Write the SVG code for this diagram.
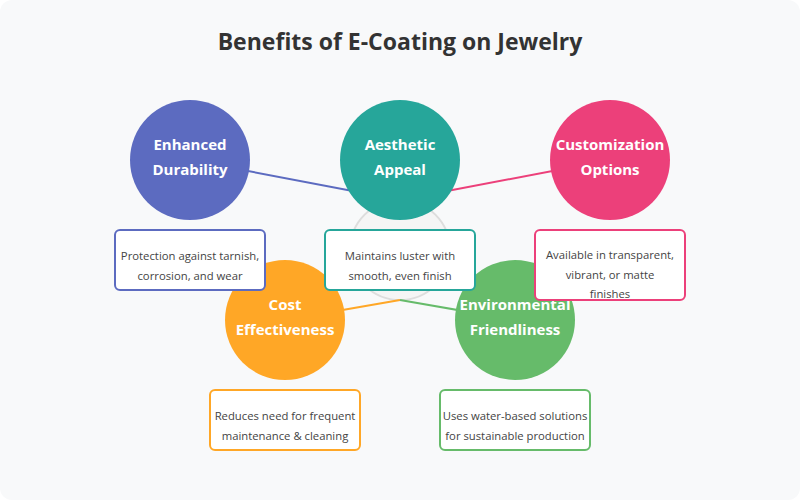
<svg xmlns="http://www.w3.org/2000/svg" width="800" height="500" viewBox="0 0 800 500">
<style>
.title{font-family:"Open Sans","Liberation Sans",sans-serif;font-weight:700;font-size:23px;fill:#333;text-anchor:middle}
.ctext{font-family:"Open Sans","Liberation Sans",sans-serif;font-weight:700;font-size:15px;fill:#fff;text-anchor:middle}
.dtext{font-family:"Open Sans","Liberation Sans",sans-serif;font-size:11.3px;fill:#444;text-anchor:middle}
.box{fill:#fff;stroke-width:2}
.conn{stroke-width:2;fill:none}
</style>
<rect x="0" y="0" width="800" height="500" rx="12" fill="#f8f9fa"/>
<text class="title" x="400" y="50">Benefits of E-Coating on Jewelry</text>
<g id="center">
<circle cx="400" cy="250" r="50" fill="#f5f5f5" stroke="#dddddd" stroke-width="2"/>
</g>
<g id="connectors">
<line class="conn" x1="400" y1="200" x2="190" y2="160" stroke="#5c6bc0"/>
<line class="conn" x1="400" y1="200" x2="610" y2="160" stroke="#ec407a"/>
<line class="conn" x1="400" y1="300" x2="285" y2="320" stroke="#ffa726"/>
<line class="conn" x1="400" y1="300" x2="515" y2="320" stroke="#66bb6a"/>
</g>
<g id="durability">
<circle cx="190" cy="160" r="60" fill="#5c6bc0"/>
<text class="ctext" x="190" y="150">Enhanced</text>
<text class="ctext" x="190" y="175">Durability</text>
</g>
<g id="aesthetic">
<circle cx="400" cy="160" r="60" fill="#26a69a"/>
<text class="ctext" x="400" y="150">Aesthetic</text>
<text class="ctext" x="400" y="175">Appeal</text>
</g>
<g id="customization">
<circle cx="610" cy="160" r="60" fill="#ec407a"/>
<text class="ctext" x="610" y="150">Customization</text>
<text class="ctext" x="610" y="175">Options</text>
</g>
<g id="cost">
<circle cx="285" cy="320" r="60" fill="#ffa726"/>
<text class="ctext" x="285" y="310">Cost</text>
<text class="ctext" x="285" y="335">Effectiveness</text>
</g>
<g id="environmental">
<circle cx="515" cy="320" r="60" fill="#66bb6a"/>
<text class="ctext" x="515" y="310">Environmental</text>
<text class="ctext" x="515" y="335">Friendliness</text>
</g>
<g id="durability-desc">
<rect class="box" x="115" y="230" width="150" height="60" rx="5" stroke="#5c6bc0"/>
<text class="dtext" x="190" y="260">Protection against tarnish,</text>
<text class="dtext" x="190" y="280">corrosion, and wear</text>
</g>
<g id="aesthetic-desc">
<rect class="box" x="325" y="230" width="150" height="60" rx="5" stroke="#26a69a"/>
<text class="dtext" x="400" y="260">Maintains luster with</text>
<text class="dtext" x="400" y="280">smooth, even finish</text>
</g>
<g id="customization-desc">
<rect class="box" x="535" y="230" width="150" height="70" rx="5" stroke="#ec407a"/>
<text class="dtext" x="610" y="259">Available in transparent,</text>
<text class="dtext" x="610" y="279">vibrant, or matte</text>
<text class="dtext" x="610" y="298">finishes</text>
</g>
<g id="cost-desc">
<rect class="box" x="210" y="390" width="150" height="60" rx="5" stroke="#ffa726"/>
<text class="dtext" x="285" y="420">Reduces need for frequent</text>
<text class="dtext" x="285" y="440">maintenance &amp; cleaning</text>
</g>
<g id="environmental-desc">
<rect class="box" x="440" y="390" width="150" height="60" rx="5" stroke="#66bb6a"/>
<text class="dtext" x="515" y="420">Uses water-based solutions</text>
<text class="dtext" x="515" y="440">for sustainable production</text>
</g>
</svg>
